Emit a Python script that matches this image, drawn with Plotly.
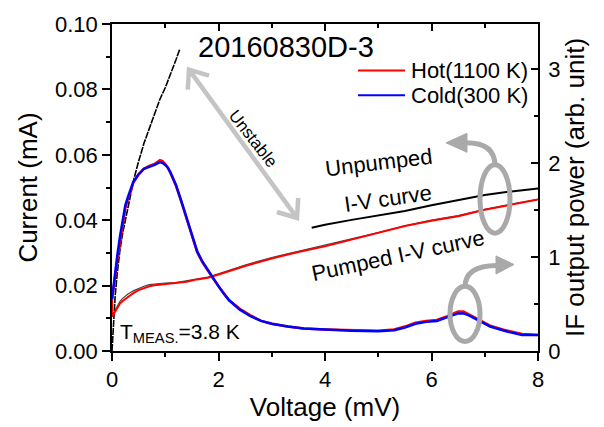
import math
import plotly.graph_objects as go

# ---------------- data ----------------
# Unpumped I-V curve, stable part below the unstable region (mV, mA)
unpumped_low_v = [0, 0.02, 0.04, 0.06, 0.10, 0.15, 0.20, 0.28, 0.35, 0.41, 0.50,
                  0.60, 0.70, 0.80, 0.90, 1.00, 1.10, 1.20, 1.27]
unpumped_low_i = [0, 0.006, 0.0115, 0.017, 0.024, 0.031, 0.036, 0.0425, 0.048, 0.0525, 0.058,
                  0.0635, 0.068, 0.0725, 0.077, 0.0805, 0.0845, 0.089, 0.0922]

# Unpumped I-V curve above the unstable region
unpumped_high_v = [3.75, 4.0, 4.5, 5.0, 5.5, 6.0, 6.5, 7.0, 7.5, 8.0]
unpumped_high_i = [0.0377, 0.0386, 0.0401, 0.0414, 0.0428, 0.0446, 0.0462, 0.0477, 0.0488, 0.0497]

# Pumped I-V curves (hot / cold load)
pumped_v = [0, 0.005, 0.05, 0.10, 0.15, 0.20, 0.30, 0.40, 0.50, 0.60, 0.70, 0.80, 1.00, 1.20,
            1.40, 1.60, 1.80, 2.00, 2.50, 3.00, 3.50, 4.00, 4.50, 5.00, 5.50, 6.00, 6.50,
            7.00, 7.50, 8.00]
pumped_hot_i = [0.0165, 0.0105, 0.0118, 0.0131, 0.0145, 0.0153, 0.0166, 0.0177, 0.0186, 0.0193,
                0.0198, 0.0201, 0.0205, 0.0207, 0.0212, 0.0219, 0.0224, 0.0234, 0.0260, 0.0283,
                0.0303, 0.0320, 0.0340, 0.0360, 0.0382, 0.0398, 0.0412, 0.0432, 0.0448, 0.0463]
pumped_cold_i = [0.0165, 0.0107, 0.0122, 0.0138, 0.0152, 0.0161, 0.0174, 0.0184, 0.0192, 0.0198,
                 0.0203, 0.0205, 0.0208, 0.0209, 0.0214, 0.0221, 0.0226, 0.0236, 0.0263, 0.0286,
                 0.0305, 0.0322, 0.0342, 0.0362, 0.0383, 0.0400, 0.0414, 0.0433, 0.0449, 0.0464]

# IF output power (arb. unit) vs bias voltage
if_v = [0, 0.03, 0.06, 0.10, 0.15, 0.20, 0.25, 0.30, 0.40, 0.50, 0.60, 0.70, 0.80, 0.90,
        0.95, 1.00, 1.05, 1.10, 1.20, 1.30, 1.40, 1.50, 1.60, 1.70, 1.80, 1.90, 2.00,
        2.10, 2.20, 2.40, 2.60, 2.80, 3.00, 3.30, 3.60, 4.00, 4.50, 5.00, 5.30, 5.50,
        5.70, 5.90, 6.10, 6.30, 6.50, 6.60, 6.70, 6.90, 7.10, 7.40, 7.70, 8.00]
if_cold = [0.55, 0.70, 0.85, 1.02, 1.22, 1.40, 1.55, 1.64, 1.80, 1.88, 1.94, 1.96, 1.98, 2.01,
           2.00, 1.98, 1.95, 1.90, 1.77, 1.60, 1.42, 1.22, 1.06, 0.95, 0.86, 0.77, 0.69,
           0.61, 0.54, 0.44, 0.37, 0.32, 0.29, 0.26, 0.24, 0.23, 0.215, 0.21, 0.22, 0.25,
           0.29, 0.31, 0.32, 0.36, 0.40, 0.40, 0.38, 0.32, 0.26, 0.21, 0.17, 0.17]
if_hot = [0.55, 0.66, 0.80, 0.97, 1.17, 1.36, 1.52, 1.62, 1.79, 1.88, 1.94, 1.97, 1.99, 2.03,
          2.02, 1.99, 1.95, 1.89, 1.76, 1.59, 1.41, 1.21, 1.05, 0.94, 0.85, 0.77, 0.69,
          0.61, 0.54, 0.45, 0.38, 0.32, 0.29, 0.26, 0.24, 0.23, 0.22, 0.215, 0.23, 0.26,
          0.30, 0.32, 0.33, 0.37, 0.42, 0.42, 0.39, 0.33, 0.27, 0.22, 0.18, 0.17]

series_names = ["Hot(1100 K)", "Cold(300 K)"]
series_colors = ["#ff0000", "#0000ff"]

v_ticks = [0, 2, 4, 6, 8]
i_ticks = [0.00, 0.02, 0.04, 0.06, 0.08, 0.10]
p_ticks = [0, 1, 2, 3]

# ---------------- figure ----------------
W, H = 604, 427
X0, X1, Y0, Y1 = 112, 538, 17, 361   # plot box in pixels
FONT = "Arial, Liberation Sans, sans-serif"


def paper(x, y):
    """Pixel position -> paper coordinates."""
    return (x - X0) / (X1 - X0), (Y1 - y) / (Y1 - Y0)


fig = go.Figure()

fig.add_trace(go.Scatter(x=unpumped_low_v, y=unpumped_low_i, mode="lines",
                         line=dict(color="black", width=1.6, dash="7px,1px"),
                         showlegend=False, hoverinfo="skip"))
fig.add_trace(go.Scatter(x=unpumped_high_v, y=unpumped_high_i, mode="lines",
                         line=dict(color="black", width=2),
                         showlegend=False, hoverinfo="skip"))
fig.add_trace(go.Scatter(x=pumped_v, y=pumped_cold_i, mode="lines",
                         line=dict(color="#444444", width=1.2),
                         showlegend=False, hoverinfo="skip"))
fig.add_trace(go.Scatter(x=pumped_v, y=pumped_hot_i, mode="lines",
                         line=dict(color=series_colors[0], width=2),
                         showlegend=False, hoverinfo="skip"))
fig.add_trace(go.Scatter(x=if_v, y=if_hot, mode="lines", yaxis="y2", showlegend=False,
                         name=series_names[0], line=dict(color=series_colors[0], width=2.5)))
fig.add_trace(go.Scatter(x=if_v, y=if_cold, mode="lines", yaxis="y2", showlegend=False,
                         name=series_names[1], line=dict(color=series_colors[1], width=2.5)))
# carrier for the mirrored top axis
fig.add_trace(go.Scatter(x=[0], y=[0], xaxis="x2", mode="markers", opacity=0,
                         showlegend=False, hoverinfo="skip"))

axis_common = dict(showline=True, linecolor="black", linewidth=1.6, showgrid=False,
                   zeroline=False, tickcolor="black", tickwidth=1.5,
                   tickfont=dict(family=FONT, size=22, color="black"))
TITLE_FONT = dict(family=FONT, size=26, color="black")

fig.update_layout(
    width=W, height=H,
    margin=dict(l=X0, r=W - X1, t=Y0, b=H - Y1),
    paper_bgcolor="white", plot_bgcolor="white",
    font=dict(family=FONT, color="black"),
    showlegend=False,
    xaxis=dict(range=[0, 8], tickvals=v_ticks, ticks="outside", ticklen=8,
               minor=dict(dtick=1, ticks="outside", ticklen=4, tickcolor="black", tickwidth=1.5),
               title=dict(text="Voltage (mV)", font=TITLE_FONT, standoff=5),
               **axis_common),
    xaxis2=dict(range=[0, 8], overlaying="x", side="top", anchor="y", tickvals=v_ticks,
                ticks="inside", ticklen=7, showticklabels=False,
                minor=dict(dtick=1, ticks="inside", ticklen=4, tickcolor="black", tickwidth=1.5),
                **axis_common),
    yaxis=dict(range=[0, 0.1], tickvals=i_ticks, tickformat=".2f", ticks="outside", ticklen=8,
               minor=dict(dtick=0.01, ticks="outside", ticklen=4, tickcolor="black", tickwidth=1.5),
               title=dict(text="Current (mA)", font=TITLE_FONT, standoff=10),
               **axis_common),
    yaxis2=dict(range=[0, 3.48], overlaying="y", side="right", anchor="x", tickvals=p_ticks,
                ticks="inside", ticklen=7, ticklabelstandoff=4,
                minor=dict(dtick=0.5, ticks="inside", ticklen=4, tickcolor="black", tickwidth=1.5),
                title=dict(text="IF output power (arb. unit)", font=TITLE_FONT, standoff=6),
                **axis_common),
)


# ---------------- annotations ----------------
def note(text, x, y, size, angle=0, anchor="center"):
    px_, py_ = paper(x, y)
    fig.add_annotation(x=px_, y=py_, xref="paper", yref="paper", text=text, showarrow=False,
                       textangle=angle, xanchor=anchor, yanchor="middle",
                       font=dict(family=FONT, size=size, color="black"))


note("20160830D-3", 286, 41, 29)
note("Unstable", 253, 137, 17, angle=52)
note("Unpumped", 379, 163, 22, angle=-7)
note("I-V curve", 388, 201, 22, angle=-8)
note("Pumped I-V curve", 398, 261, 22, angle=-12)
note("T<sub>MEAS.</sub>=3.8 K", 180, 342, 21)

# legend: line samples and labels
for k, (name, color) in enumerate(zip(series_names, series_colors)):
    ly = 66 + 26 * k
    a = paper(358, ly); b = paper(405, ly)
    fig.add_shape(type="line", xref="paper", yref="paper", x0=a[0], y0=a[1], x1=b[0], y1=b[1],
                  line=dict(color=color, width=2))
    note(name, 409, ly, 22, anchor="left")

# ---------------- gray guide graphics ----------------
GRAY = "#a9a9a9"
LIGHT = "#c4c4c4"


def path_str(points, close=False):
    parts = []
    for k, (x, y) in enumerate(points):
        px_, py_ = paper(x, y)
        parts.append(f"{'M' if k == 0 else 'L'}{px_:.5f},{py_:.5f}")
    return " ".join(parts) + (" Z" if close else "")


def curve(p0, c, p1, color, width):
    a = paper(*p0); b = paper(*c); d = paper(*p1)
    fig.add_shape(type="path", xref="paper", yref="paper",
                  path=f"M{a[0]:.5f},{a[1]:.5f} Q{b[0]:.5f},{b[1]:.5f} {d[0]:.5f},{d[1]:.5f}",
                  line=dict(color=color, width=width))


def tri(points, color):
    fig.add_shape(type="path", xref="paper", yref="paper", path=path_str(points, close=True),
                  fillcolor=color, line=dict(color=color, width=1))


def ellipse(cx, cy, rx, ry, color, width):
    a = paper(cx - rx, cy + ry); b = paper(cx + rx, cy - ry)
    fig.add_shape(type="circle", xref="paper", yref="paper", x0=a[0], y0=a[1], x1=b[0], y1=b[1],
                  line=dict(color=color, width=width))


# upper ellipse with curved arrow to the left
ellipse(495, 201, 15, 36, GRAY, 5)
curve((495, 166), (495, 142), (466, 142), GRAY, 5)
tri([(446, 142), (467, 132), (467, 152)], GRAY)

# lower ellipse with curved arrow to the right
ellipse(465, 322, 15, 29, GRAY, 5)
curve((465, 294), (465, 271), (497, 271), GRAY, 5)
tri([(514, 270), (496, 261), (496, 280)], GRAY)

# double-headed "unstable" arrow with chevron heads
A = (189, 65)
B = (297, 221)
fig.add_shape(type="path", xref="paper", yref="paper", path=path_str([A, B]),
              line=dict(color=LIGHT, width=4.5))
ang = math.atan2(B[1] - A[1], B[0] - A[0])
for tip, base_ang in ((A, ang), (B, ang + math.pi)):
    arms = []
    for s in (-1, 1):
        a2 = base_ang + s * math.radians(38)
        arms.append((tip[0] + 21 * math.cos(a2), tip[1] + 21 * math.sin(a2)))
    fig.add_shape(type="path", xref="paper", yref="paper",
                  path=path_str([arms[0], tip, arms[1]]),
                  line=dict(color=LIGHT, width=4.5))

fig.write_html("out.html")
